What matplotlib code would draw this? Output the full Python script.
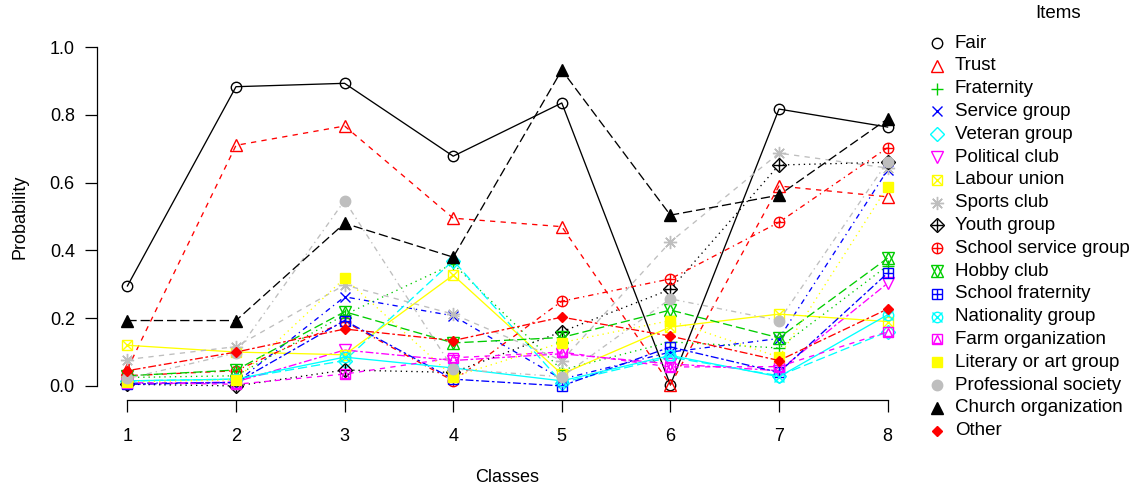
import numpy as np
import matplotlib
matplotlib.use("Agg")
import matplotlib.pyplot as plt

plt.rcParams['font.family'] = ['Liberation Sans', 'DejaVu Sans']

classes = [1, 2, 3, 4, 5, 6, 7, 8]

items = ["Fair", "Trust", "Fraternity", "Service group", "Veteran group",
         "Political club", "Labour union", "Sports club", "Youth group",
         "School service group", "Hobby club", "School fraternity",
         "Nationality group", "Farm organization", "Literary or art group",
         "Professional society", "Church organization", "Other"]

# probabilities per class
fair = [0.295, 0.883, 0.893, 0.678, 0.835, 0.003, 0.817, 0.764]
trust = [0.05, 0.71, 0.767, 0.495, 0.47, 0.003, 0.59, 0.558]
fraternity = [0.025, 0.03, 0.21, 0.36, 0.047, 0.13, 0.112, 0.355]
service = [0.008, 0.01, 0.263, 0.207, 0.02, 0.10, 0.14, 0.637]
veteran = [0.015, 0.02, 0.075, 0.37, 0.01, 0.085, 0.03, 0.16]
political = [0.005, 0.012, 0.106, 0.075, 0.095, 0.065, 0.045, 0.303]
labour = [0.12, 0.10, 0.092, 0.327, 0.035, 0.174, 0.212, 0.19]
sports = [0.078, 0.116, 0.298, 0.212, 0.075, 0.425, 0.687, 0.643]
youth = [0.005, 0.0, 0.047, 0.04, 0.16, 0.285, 0.652, 0.66]
school_service = [0.03, 0.045, 0.19, 0.015, 0.25, 0.316, 0.483, 0.703]
hobby = [0.03, 0.047, 0.219, 0.127, 0.143, 0.224, 0.142, 0.377]
school_frat = [0.005, 0.01, 0.193, 0.02, 0.0, 0.115, 0.04, 0.333]
nationality = [0.015, 0.02, 0.085, 0.053, 0.015, 0.09, 0.027, 0.21]
farm = [0.01, 0.005, 0.035, 0.083, 0.1, 0.056, 0.057, 0.16]
literary = [0.012, 0.018, 0.318, 0.027, 0.128, 0.193, 0.085, 0.588]
professional = [0.022, 0.097, 0.547, 0.05, 0.027, 0.257, 0.193, 0.662]
church = [0.193, 0.193, 0.48, 0.38, 0.932, 0.504, 0.563, 0.788]
other = [0.045, 0.10, 0.168, 0.134, 0.203, 0.147, 0.075, 0.227]

series = [fair, trust, fraternity, service, veteran, political, labour, sports,
          youth, school_service, hobby, school_frat, nationality, farm,
          literary, professional, church, other]

# old R palette and line types, recycled like matplot does
palette = ["black", "#FF0000", "#00CD00", "#0000FF", "#00FFFF", "#FF00FF",
           "#FFFF00", "#BEBEBE"]
ltys = ["-", (0, (4, 4)), (0, (1, 3)), (0, (1, 3, 4, 3)), (0, (7, 3)),
        (0, (2, 2, 6, 2))]

MS = 7.5
FS = 13
# R pch 1..18 as layers of (marker, size, filled)
pch = [
    [("o", MS, False)],
    [("^", MS + 0.5, False)],
    [("+", MS + 1, False)],
    [("x", MS, False)],
    [("D", MS - 0.5, False)],
    [("v", MS + 0.5, False)],
    [("s", MS, False), ("x", MS, False)],
    [((8, 2, 0), MS + 2, False)],
    [("D", MS - 0.5, False), ("+", MS + 1, False)],
    [("o", MS, False), ("+", MS, False)],
    [("^", MS + 0.5, False), ("v", MS + 0.5, False)],
    [("s", MS, False), ("+", MS, False)],
    [("o", MS, False), ("x", MS - 1, False)],
    [("s", MS, False), ("^", MS - 1.5, False)],
    [("s", MS, True)],
    [("o", MS, True)],
    [("^", MS + 0.5, True)],
    [("D", MS - 2.5, True)],
]


def draw_pch(target, x, y, k, col, **kw):
    for m, s, filled in pch[k]:
        target.plot(x, y, linestyle="none", marker=m, markersize=s,
                    markerfacecolor=col if filled else "none",
                    markeredgecolor=col, markeredgewidth=1.0, **kw)


fig = plt.figure(figsize=(11.37, 4.94), dpi=100)
ax = fig.add_axes([97 / 1137, 1 - 399.5 / 494, 821 / 1137, 366 / 494])

for k, vals in enumerate(series):
    col = palette[k % 8]
    ax.plot(classes, vals, color=col, linestyle=ltys[k % 6], linewidth=0.95)
    draw_pch(ax, classes, vals, k, col)

ax.set_xlim(0.72, 8.28)
ax.set_ylim(-0.04, 1.04)
ax.set_xticks(classes)
ax.set_yticks([0, 0.2, 0.4, 0.6, 0.8, 1.0])
ax.set_yticklabels(["0.0", "0.2", "0.4", "0.6", "0.8", "1.0"])
ax.spines["top"].set_visible(False)
ax.spines["right"].set_visible(False)
ax.spines["left"].set_bounds(0, 1)
ax.spines["bottom"].set_bounds(1, 8)
for s in ["left", "bottom"]:
    ax.spines[s].set_linewidth(0.9)
ax.tick_params(direction="out", length=8.5, width=0.9, labelsize=FS)
ax.tick_params(axis="y", pad=7.5)
ax.tick_params(axis="x", pad=12)
ax.set_xlabel("Classes", fontsize=FS)
ax.set_ylabel("Probability", fontsize=FS)
ax.xaxis.set_label_coords(0.5, -0.19)
ax.yaxis.set_label_coords(-0.083, 0.5)

# legend drawn in pixel space on an overlay
lax = fig.add_axes([0, 0, 1, 1])
lax.set_xlim(0, 1137)
lax.set_ylim(494, 0)
lax.axis("off")
lax.text(1058, 14, "Items", ha="center", va="center", fontsize=13.5)
for k, name in enumerate(items):
    yy = 43 + 22.8 * k
    draw_pch(lax, [937], [yy], k, palette[k % 8])
    lax.text(955, yy, name, ha="left", va="center", fontsize=13.5)

fig.savefig("out.png", dpi=100)
